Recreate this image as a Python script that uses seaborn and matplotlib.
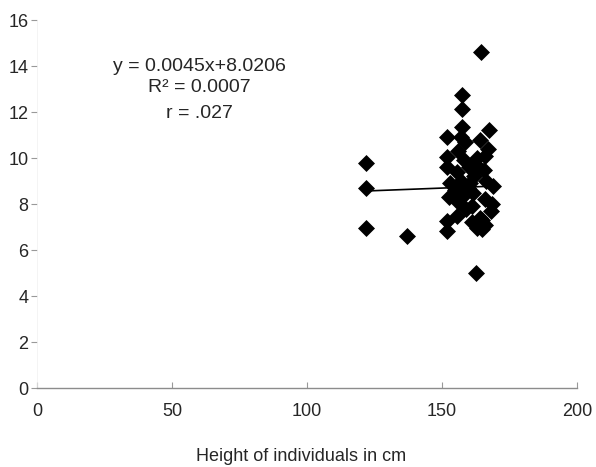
"""
Scatter of value vs height of individuals, with linear fit line
"""
import matplotlib
matplotlib.use("Agg")
import matplotlib.pyplot as plt
import seaborn as sns
import numpy as np
import pandas as pd

height = [
    122, 122, 122, 137,
    152, 152, 152, 152.5, 152, 152, 153,
    157.5, 157.5, 157.3, 157, 156, 158, 155.5, 157, 155, 158, 156, 159, 160, 155.5, 158.5,
    164.5, 162.5, 164, 167.5, 163, 165.5, 162, 166.5, 169, 161.5, 166, 161, 168, 164,
    166, 163, 165, 160.5, 167, 162, 159.5, 165, 161, 168.5, 163.5, 166,
]
value = [
    9.8, 8.7, 6.95, 6.6,
    10.9, 10.05, 9.6, 8.3, 7.25, 6.85, 8.9,
    12.75, 12.15, 11.35, 10.9, 10.3, 9.9, 9.4, 9.0, 8.6, 8.4, 8.1, 7.8, 9.6, 7.5, 10.7,
    14.6, 5.0, 10.8, 11.2, 10.0, 9.5, 9.2, 9.0, 8.8, 8.5, 8.2, 7.9, 7.7, 7.4,
    7.1, 6.95, 6.9, 8.9, 10.4, 9.8, 8.7, 7.3, 7.2, 8.0, 9.6, 10.1,
]
slope, intercept = 0.0045, 8.0206
fit_x = [min(height), 166]
fit_y = [slope * v + intercept for v in fit_x]

df = pd.DataFrame({"height": height, "value": value})
fit = pd.DataFrame({"height": fit_x, "value": fit_y})

sns.set_theme(style="white")
plt.rcParams["font.family"] = ["Liberation Sans", "DejaVu Sans"]

fig = plt.figure(figsize=(5.96, 4.67), dpi=100)
ax = fig.add_axes([0.062, 0.169, 0.906, 0.788])

sns.lineplot(x="height", y="value", data=fit, ax=ax, color="black", linewidth=1.2)
sns.scatterplot(x="height", y="value", data=df, ax=ax, marker="D", s=75,
                color="black", edgecolor="black", linewidth=0)

ax.set_xlim(0, 200)
ax.set_ylim(0, 16)
ax.set_xticks([0, 50, 100, 150, 200])
ax.set_yticks(range(0, 17, 2))
for s in ["top", "right"]:
    ax.spines[s].set_visible(False)
ax.spines["left"].set_color("#f0f0f0")
ax.spines["left"].set_linewidth(0.5)
ax.spines["bottom"].set_color("#8c8c8c")
ax.spines["bottom"].set_linewidth(1.0)
ax.tick_params(axis="y", direction="out", length=4, width=0.8, color="#999999",
               labelsize=13, pad=2, left=True)
ax.tick_params(axis="x", direction="in", length=4, width=0.8, color="#999999",
               labelsize=13, pad=11, bottom=True)

ax.text(60, 14.0, "y = 0.0045x+8.0206", ha="center", va="center", fontsize=14)
ax.text(60, 13.05, "R² = 0.0007", ha="center", va="center", fontsize=14)
ax.text(60, 11.95, "r = .027", ha="center", va="center", fontsize=14)

ax.set(xlabel="", ylabel="")
fig.text(0.505, 0.005, "Height of individuals in cm", ha="center", va="bottom", fontsize=13)

fig.savefig("out.png", dpi=100)
